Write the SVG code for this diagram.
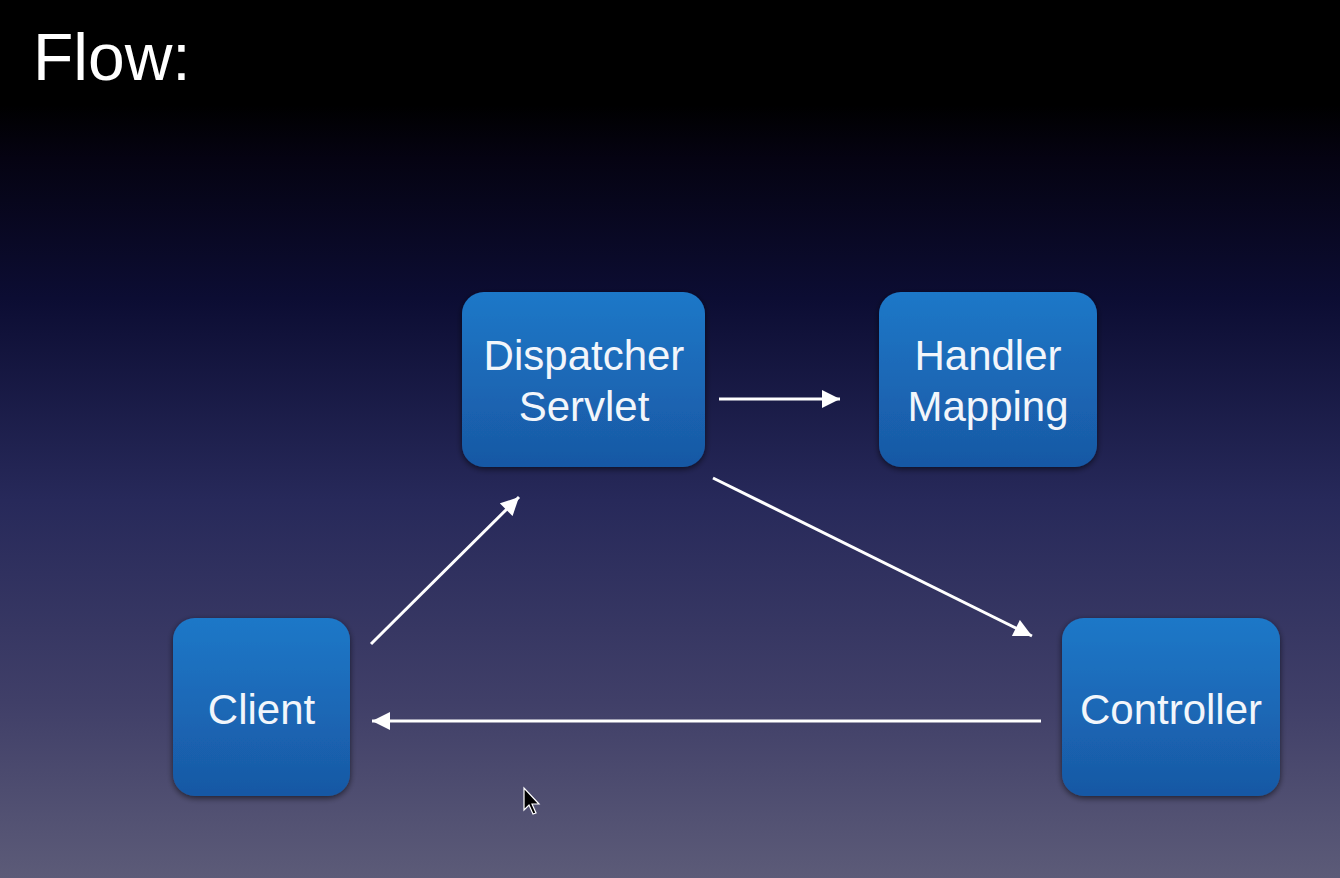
<svg xmlns="http://www.w3.org/2000/svg" width="1340" height="878" viewBox="0 0 1340 878">
<defs>
<linearGradient id="bg" x1="0" y1="0" x2="0" y2="1">
<stop offset="0" stop-color="#000000"/>
<stop offset="0.12" stop-color="#000000"/>
<stop offset="0.18" stop-color="#050312"/>
<stop offset="0.34" stop-color="#0c0d33"/>
<stop offset="0.57" stop-color="#27295a"/>
<stop offset="0.8" stop-color="#403f68"/>
<stop offset="1" stop-color="#5c5b78"/>
</linearGradient>
<linearGradient id="nodefill" x1="0" y1="0" x2="0" y2="1">
<stop offset="0" stop-color="#1e78c8"/>
<stop offset="1" stop-color="#1858a4"/>
</linearGradient>
<filter id="shadow" x="-10%" y="-10%" width="120%" height="125%">
<feGaussianBlur in="SourceAlpha" stdDeviation="3"/>
<feOffset dy="2"/>
<feComponentTransfer><feFuncA type="linear" slope="0.6"/></feComponentTransfer>
<feMerge><feMergeNode/><feMergeNode in="SourceGraphic"/></feMerge>
</filter>
<marker id="arrow" viewBox="0 0 10 10" refX="10" refY="5" markerWidth="6.5" markerHeight="6" orient="auto" markerUnits="strokeWidth">
<path d="M0,0 L10,5 L0,10 Z" fill="#ffffff"/>
</marker>
</defs>
<style>
.node rect { fill: url(#nodefill); filter: url(#shadow); }
.node text { fill: #f2f6fb; font-family: "Liberation Sans", Arial, sans-serif; font-size: 42px; text-anchor: middle; }
.conn line { stroke: #ffffff; stroke-width: 3; marker-end: url(#arrow); }
.title { fill: #ffffff; stroke: #000000; stroke-width: 2.2; paint-order: stroke; font-family: "Liberation Sans", Arial, sans-serif; font-size: 66px; }
</style>
<rect x="0" y="0" width="1340" height="878" fill="url(#bg)"/>
<text class="title" x="33" y="80">Flow:</text>
<g class="conn">
<line x1="719" y1="399" x2="840" y2="399"/>
<line x1="371" y1="644" x2="519" y2="497"/>
<line x1="713" y1="478" x2="1032" y2="636"/>
<line x1="1041" y1="721" x2="372" y2="721"/>
</g>
<g id="dispatcher" class="node">
<rect x="462" y="292" width="243" height="175" rx="22"/>
<text x="584" y="370">Dispatcher</text>
<text x="584" y="421">Servlet</text>
</g>
<g id="handler" class="node">
<rect x="879" y="292" width="218" height="175" rx="22"/>
<text x="988" y="370">Handler</text>
<text x="988" y="421">Mapping</text>
</g>
<g id="client" class="node">
<rect x="173" y="618" width="177" height="178" rx="22"/>
<text x="261.5" y="724">Client</text>
</g>
<g id="controller" class="node">
<rect x="1062" y="618" width="218" height="178" rx="22"/>
<text x="1171" y="724">Controller</text>
</g>
<path d="M524,788 L524,810 L529,805 L533,814 L536,813 L532,804 L539,804 Z" fill="#000000" stroke="#ffffff" stroke-width="1.2"/>
</svg>
